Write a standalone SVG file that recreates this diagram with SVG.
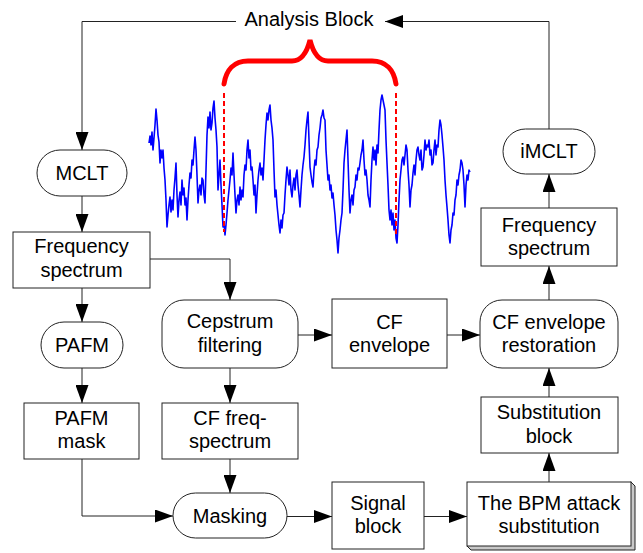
<svg xmlns="http://www.w3.org/2000/svg" width="643" height="553" viewBox="0 0 643 553">
<defs>
<style>
.box{fill:#fff;stroke:#222;stroke-width:1}
.lbl{font-family:"Liberation Sans",Arial,sans-serif;font-size:20px;fill:#000;text-anchor:middle}
.con{fill:none;stroke:#222;stroke-width:1}
.shadow{fill:#c8c8c8;stroke:#222;stroke-width:1}
</style>
<marker id="arr" markerUnits="userSpaceOnUse" markerWidth="18" markerHeight="13" refX="18" refY="6.5" orient="auto">
<path d="M0,0 L18,6.5 L0,13 Z" fill="#000"/>
</marker>
</defs>
<rect width="643" height="553" fill="#fff"/>

<g id="waveform">
<polyline fill="none" stroke="#0000ff" stroke-width="1.6" stroke-linejoin="round" points="149,143 150,136 151,145 152,132 153,150 154,138 155,125 156,109 157,120 158,135 159,142 160,163 161,150 162,158 163,150 164,168 165,180 166,200 167,227 168,215 169,205 170,197 171,212 172,200 173,210 174,190 175,178 176,163 177,195 178,217 179,200 180,192 181,205 182,180 183,195 184,188 185,205 186,198 187,220 188,200 189,185 190,173 191,178 192,160 193,165 194,150 195,137 196,150 197,175 198,203 199,190 200,185 201,195 202,178 203,180 204,195 205,203 206,170 207,135 208,117 209,128 210,112 211,130 212,123 213,108 214,101 215,118 216,130 217,147 218,190 219,175 220,160 221,185 222,205 223,227 224,222 225,235 226,225 227,213 228,200 229,190 230,180 231,168 232,175 233,153 234,175 235,195 236,213 237,200 238,195 239,205 240,187 241,200 242,190 243,197 244,175 245,165 246,170 247,150 248,140 249,158 250,150 251,170 252,167 253,180 254,195 255,185 256,213 257,195 258,180 259,170 260,163 261,175 262,168 263,180 264,160 265,140 266,125 267,113 268,120 269,110 270,105 271,120 272,128 273,140 274,170 275,197 276,190 277,205 278,215 279,225 280,233 281,220 282,228 283,215 284,213 285,195 286,180 287,167 288,175 289,185 290,170 291,190 292,197 293,185 294,178 295,190 296,175 297,170 298,185 299,195 300,207 301,190 302,175 303,165 304,157 305,145 306,130 307,120 308,112 309,140 310,167 311,175 312,182 313,187 314,170 315,160 316,165 317,150 318,147 319,135 320,128 321,118 322,115 323,110 324,118 325,120 326,150 327,165 328,180 329,175 330,190 331,185 332,198 333,193 334,205 335,215 336,230 337,240 338,253 339,238 340,230 341,220 342,213 343,190 344,163 345,150 346,140 347,130 348,160 349,190 350,213 351,200 352,195 353,205 354,190 355,187 356,175 357,180 358,168 359,170 360,163 361,155 362,150 363,140 364,160 365,175 366,170 367,180 368,195 369,200 370,207 371,180 372,160 373,147 374,160 375,150 376,165 377,145 378,153 379,130 380,110 381,100 382,95 383,100 384,105 385,110 386,140 387,163 388,185 389,210 390,220 391,210 392,225 393,213 394,230 395,220 396,238 397,243 398,225 399,200 400,180 401,170 402,160 403,157 404,165 405,155 406,145 407,150 408,170 409,185 410,207 411,190 412,185 413,173 414,165 415,175 416,160 417,150 418,147 419,155 420,160 421,150 422,170 423,167 424,155 425,140 426,150 427,145 428,147 429,140 430,155 431,150 432,165 433,163 434,150 435,140 436,155 437,145 438,147 439,130 440,120 441,125 442,135 443,147 444,160 445,180 446,195 447,207 448,220 449,235 450,243 451,230 452,225 453,213 454,215 455,200 456,195 457,180 458,185 459,175 460,170 461,160 462,163 463,170 464,185 465,207 466,185 467,175 468,180 469,170 470,172"/>
</g>

<g id="brace">
<path d="M224,84 C226,70 234,61 248,61 L292,61 C302,61 307,52 310,40 C313,52 318,61 328,61 L372,61 C386,61 394,70 396,84" fill="none" stroke="#ff0000" stroke-width="5" stroke-linecap="round"/>
<line x1="224" y1="93" x2="224" y2="232" stroke="#ff0000" stroke-width="2" stroke-dasharray="5,3"/>
<line x1="396" y1="93" x2="396" y2="234" stroke="#ff0000" stroke-width="2" stroke-dasharray="5,3"/>
</g>

<g id="connectors">
<polyline class="con" points="236,21.5 82,21.5 82,150" marker-end="url(#arr)"/>
<polyline class="con" points="549,129 549,21.5 385,21.5" marker-end="url(#arr)"/>
<line class="con" x1="82" y1="196" x2="82" y2="232" marker-end="url(#arr)"/>
<line class="con" x1="82" y1="288" x2="82" y2="322" marker-end="url(#arr)"/>
<polyline class="con" points="150,259 230,259 230,300" marker-end="url(#arr)"/>
<line class="con" x1="82" y1="368" x2="82" y2="403" marker-end="url(#arr)"/>
<polyline class="con" points="82,459 82,516 173,516" marker-end="url(#arr)"/>
<line class="con" x1="230" y1="368" x2="230" y2="403" marker-end="url(#arr)"/>
<line class="con" x1="230" y1="459" x2="230" y2="493" marker-end="url(#arr)"/>
<line class="con" x1="298" y1="335" x2="332" y2="335" marker-end="url(#arr)"/>
<line class="con" x1="447" y1="335" x2="480" y2="335" marker-end="url(#arr)"/>
<line class="con" x1="287" y1="516.5" x2="332" y2="516.5" marker-end="url(#arr)"/>
<line class="con" x1="424" y1="516.5" x2="467" y2="516.5" marker-end="url(#arr)"/>
<line class="con" x1="549" y1="482" x2="549" y2="453" marker-end="url(#arr)"/>
<line class="con" x1="549" y1="397" x2="549" y2="368" marker-end="url(#arr)"/>
<line class="con" x1="549" y1="300" x2="549" y2="266" marker-end="url(#arr)"/>
<line class="con" x1="549" y1="208" x2="549" y2="174" marker-end="url(#arr)"/>
</g>

<g id="analysis-block">
<text class="lbl" x="309" y="26">Analysis Block</text>
</g>

<g id="mclt">
<rect class="box" x="37" y="150" width="90" height="46" rx="23"/>
<text class="lbl" x="82" y="180">MCLT</text>
</g>

<g id="freq-left">
<rect class="box" x="13" y="232" width="137" height="56"/>
<text class="lbl" x="81.5" y="253">Frequency</text>
<text class="lbl" x="81.5" y="277">spectrum</text>
</g>

<g id="pafm">
<rect class="box" x="41" y="322" width="82" height="46" rx="23"/>
<text class="lbl" x="82" y="352">PAFM</text>
</g>

<g id="pafm-mask">
<rect class="box" x="24" y="403" width="115" height="56"/>
<text class="lbl" x="81.5" y="425">PAFM</text>
<text class="lbl" x="81.5" y="448">mask</text>
</g>

<g id="cepstrum">
<rect class="box" x="162" y="300" width="136" height="68" rx="22"/>
<text class="lbl" x="230" y="328">Cepstrum</text>
<text class="lbl" x="230" y="352">filtering</text>
</g>

<g id="cf-freq">
<rect class="box" x="162" y="403" width="136" height="56"/>
<text class="lbl" x="230" y="425">CF freq-</text>
<text class="lbl" x="230" y="448">spectrum</text>
</g>

<g id="masking">
<rect class="box" x="173" y="493" width="114" height="45" rx="22.5"/>
<text class="lbl" x="230" y="523">Masking</text>
</g>

<g id="cf-envelope">
<rect class="box" x="332" y="299" width="115" height="69"/>
<text class="lbl" x="389.5" y="329">CF</text>
<text class="lbl" x="389.5" y="352">envelope</text>
</g>

<g id="cf-restoration">
<rect class="box" x="480" y="300" width="138" height="68" rx="22"/>
<text class="lbl" x="549" y="329">CF envelope</text>
<text class="lbl" x="549" y="352">restoration</text>
</g>

<g id="substitution">
<rect class="box" x="481" y="397" width="137" height="56"/>
<text class="lbl" x="549" y="419">Substitution</text>
<text class="lbl" x="549" y="443">block</text>
</g>

<g id="signal-block">
<rect class="box" x="332" y="482" width="92" height="67"/>
<text class="lbl" x="378" y="510">Signal</text>
<text class="lbl" x="378" y="533">block</text>
</g>

<g id="bpm-attack">
<path class="shadow" d="M631,482 L635,486 L635,550 L471,550 L467,546 Z"/>
<rect class="box" x="467" y="482" width="164" height="64"/>
<text class="lbl" x="549" y="510">The BPM attack</text>
<text class="lbl" x="549" y="533">substitution</text>
</g>

<g id="freq-right">
<rect class="box" x="481" y="208" width="136" height="58"/>
<text class="lbl" x="549" y="232">Frequency</text>
<text class="lbl" x="549" y="255">spectrum</text>
</g>

<g id="imclt">
<rect class="box" x="503" y="129" width="92" height="45" rx="22.5"/>
<text class="lbl" x="549" y="158">iMCLT</text>
</g>
</svg>
